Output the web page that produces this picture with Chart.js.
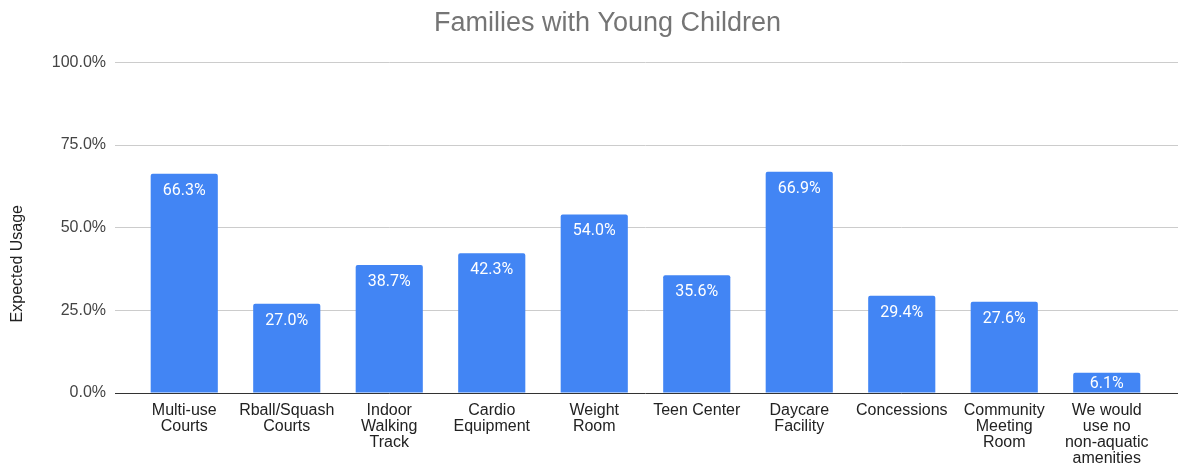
<!DOCTYPE html>
<html lang="en">
<head>
    <meta charset="UTF-8">
    <title>Families with Young Children</title>
    <script src="https://cdn.jsdelivr.net/npm/chart.js"></script>
    <style>
        html, body { margin: 0; padding: 0; background: #fff; }
        #wrap { width: 1199px; height: 465px; position: relative; }
    </style>
</head>
<body>
    <div id="wrap"><canvas id="myChart"></canvas></div>

    <script>
        // data
        const amenities = [
            ['Multi-use', 'Courts'],
            ['Rball/Squash', 'Courts'],
            ['Indoor', 'Walking', 'Track'],
            ['Cardio', 'Equipment'],
            ['Weight', 'Room'],
            'Teen Center',
            ['Daycare', 'Facility'],
            'Concessions',
            ['Community', 'Meeting', 'Room'],
            ['We would', 'use no', 'non-aquatic', 'amenities']
        ];
        const usage = [66.3, 27.0, 38.7, 42.3, 54.0, 35.6, 66.9, 29.4, 27.6, 6.1];
        const yTicks = [0, 25, 50, 75, 100];
        const yTitle = 'Expected Usage';

        const gridColor = ctx => (ctx.tick && ctx.tick.value === 0) ? '#333333' : '#cccccc';

        // white value labels inside the top of each bar (centred when the bar is short)
        const barLabels = {
            id: 'barLabels',
            afterDatasetsDraw(chart) {
                const c = chart.ctx;
                const meta = chart.getDatasetMeta(0);
                c.save();
                c.fillStyle = '#ffffff';
                c.font = '16px Roboto';
                c.textAlign = 'center';
                c.textBaseline = 'alphabetic';
                meta.data.forEach((bar, i) => {
                    const y = Math.min(bar.y + 21, (bar.y + bar.base) / 2 + 5.5);
                    c.fillText(usage[i].toFixed(1) + '%', bar.x, y);
                });
                c.restore();
            }
        };

        // the axis title sits a bit lower than the plot centre in the original
        const axisTitle = {
            id: 'axisTitle',
            afterDraw(chart) {
                const c = chart.ctx;
                c.save();
                c.translate(18, (chart.chartArea.top + chart.height) / 2);
                c.rotate(-Math.PI / 2);
                c.fillStyle = '#222222';
                c.font = '16px "Liberation Sans"';
                c.textAlign = 'center';
                c.textBaseline = 'middle';
                c.fillText(yTitle, 0, 0);
                c.restore();
            }
        };

        const ctx = document.getElementById('myChart').getContext('2d');
        const myChart = new Chart(ctx, {
            type: 'bar',
            data: {
                labels: amenities,
                datasets: [{
                    label: yTitle,
                    data: usage,
                    backgroundColor: '#4285f4',
                    borderRadius: 2,
                    borderSkipped: 'start',
                    barPercentage: 0.655,
                    categoryPercentage: 1
                }]
            },
            options: {
                responsive: true,
                maintainAspectRatio: false,
                animation: false,
                layout: { padding: { left: 16, top: 0, right: 0, bottom: 0 } },
                plugins: {
                    legend: { display: false },
                    tooltip: { enabled: false },
                    title: {
                        display: true,
                        text: 'Families with Young Children',
                        color: '#757575',
                        font: { family: 'Liberation Sans', size: 27, weight: 'normal' },
                        padding: { top: 7, bottom: 23 }
                    }
                },
                scales: {
                    x: {
                        grid: { display: false },
                        border: { display: false },
                        ticks: {
                            autoSkip: false,
                            maxRotation: 0,
                            padding: 2,
                            color: '#222222',
                            font: { family: 'Liberation Sans', size: 16, lineHeight: 1.0 }
                        },
                        afterFit: s => { s.height = 72; }
                    },
                    y: {
                        min: 0,
                        max: 100,
                        afterBuildTicks: s => { s.ticks = yTicks.map(v => ({ value: v })); },
                        grid: { color: gridColor, tickColor: gridColor, tickLength: 18 },
                        border: { display: false },
                        ticks: {
                            padding: 9,
                            color: '#444444',
                            font: { family: 'Liberation Sans', size: 16 },
                            callback: v => v.toFixed(1) + '%'
                        },
                        afterFit: s => { s.width = 117; }
                    },
                    y2: {
                        position: 'right',
                        min: 0,
                        max: 100,
                        afterBuildTicks: s => { s.ticks = yTicks.map(v => ({ value: v })); },
                        grid: { drawOnChartArea: false, color: gridColor, tickColor: gridColor, tickLength: 20 },
                        border: { display: false },
                        ticks: { display: false },
                        afterFit: s => { s.width = 41; }
                    }
                }
            },
            plugins: [barLabels, axisTitle]
        });
    </script>
</body>
</html>
